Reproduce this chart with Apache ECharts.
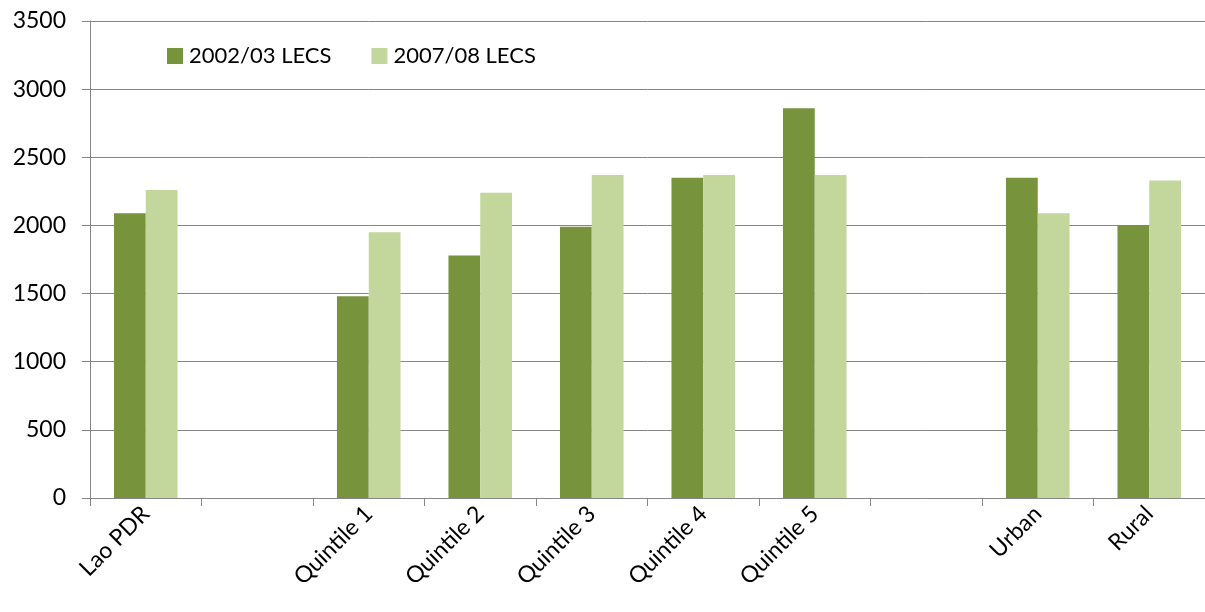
<!DOCTYPE html>
<html>
<head>
<meta charset="utf-8">
<script src="https://cdn.jsdelivr.net/npm/echarts@6/dist/echarts.min.js"></script>
<style>
  html, body { margin: 0; padding: 0; background: #fff; }
  #main { width: 1205px; height: 612px; }
</style>
</head>
<body>
<div id="main"></div>
<script>
var categories = ["Lao PDR", "", "Quintile 1", "Quintile 2", "Quintile 3", "Quintile 4", "Quintile 5", "", "Urban", "Rural"];
var lecs0203 = [2090, "-", 1480, 1780, 1990, 2350, 2860, "-", 2350, 2000];
var lecs0708 = [2260, "-", 1950, 2240, 2370, 2370, 2370, "-", 2090, 2330];
var yTicks = [0, 500, 1000, 1500, 2000, 2500, 3000, 3500];

var font = "Lato, 'Open Sans', sans-serif";
var myChart = echarts.init(document.getElementById("main"));
var option = {
  animation: false,
  grid: { left: 90, right: 0, top: 21, bottom: 114 },
  legend: {
    left: 162,
    top: 40,
    itemWidth: 16,
    itemHeight: 16,
    itemGap: 40,
    icon: "rect",
    textStyle: { fontFamily: font, fontSize: 22, color: "#000", padding: [0, 0, 0, 1] },
    data: ["2002/03 LECS", "2007/08 LECS"]
  },
  xAxis: {
    type: "category",
    data: categories,
    axisLine: { lineStyle: { color: "#868686" } },
    axisTick: { show: true, length: 8, lineStyle: { color: "#868686" } },
    axisLabel: {
      rotate: 45,
      interval: 0,
      margin: 12,
      fontFamily: font,
      fontSize: 23,
      color: "#000"
    }
  },
  yAxis: {
    type: "value",
    min: yTicks[0],
    max: yTicks[yTicks.length - 1],
    interval: 500,
    axisLine: { show: true, lineStyle: { color: "#868686" } },
    axisTick: { show: true, length: 8, lineStyle: { color: "#868686" } },
    splitLine: { lineStyle: { color: "#868686" } },
    axisLabel: {
      margin: 24,
      fontFamily: font,
      fontSize: 23,
      color: "#000",
      formatter: function (v) { return String(v); }
    }
  },
  series: [
    {
      name: "2002/03 LECS",
      type: "bar",
      data: lecs0203,
      barGap: "0%",
      barCategoryGap: "43%",
      itemStyle: { color: "#77933C" }
    },
    {
      name: "2007/08 LECS",
      type: "bar",
      data: lecs0708,
      itemStyle: { color: "#C3D69B" }
    }
  ]
};
option && myChart.setOption(option);
</script>
</body>
</html>
